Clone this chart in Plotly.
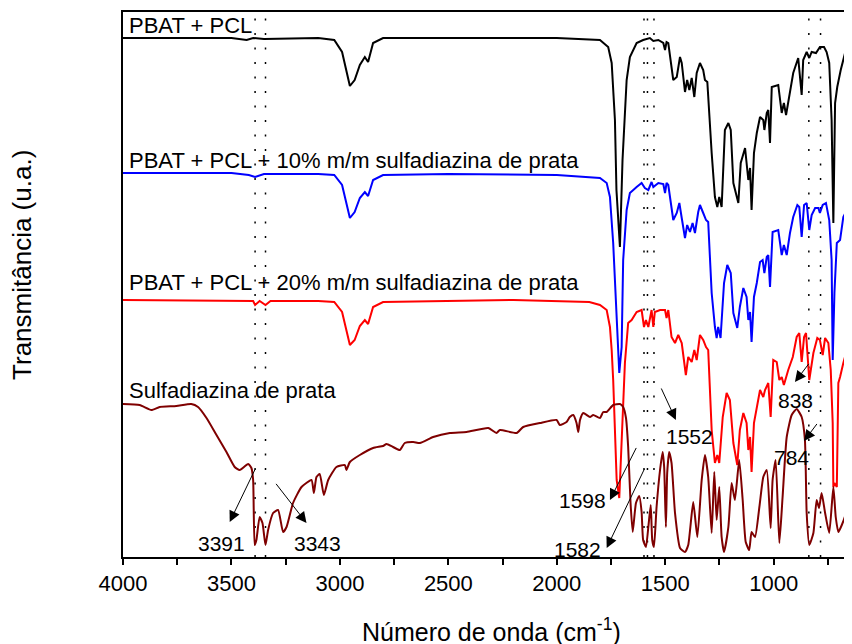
import plotly.graph_objects as go

# ---------------- data (wavenumber in cm^-1, transmittance in arbitrary offset units) -------------
wn_black = [4000, 3500, 3430, 3400, 3350, 3100, 3026, 2990, 2954, 2932, 2908, 2885, 2870, 2847, 2801, 2500, 2000,
            1801, 1763, 1747, 1732, 1725, 1709, 1697, 1678, 1663, 1632, 1602, 1571, 1555, 1532, 1509, 1501, 1494,
            1486, 1463, 1447, 1432, 1424, 1409, 1399, 1389, 1378, 1366, 1355, 1340, 1325, 1317, 1306, 1286, 1271,
            1260, 1251, 1240, 1225, 1209, 1198, 1186, 1163, 1152, 1132, 1125, 1117, 1109, 1102, 1091, 1078, 1063,
            1048, 1043, 1032, 1025, 1017, 1009, 979, 963, 953, 943, 925, 910, 887, 871, 864, 848, 836, 825, 805,
            787, 768, 756, 744, 733, 725, 717, 707, 691, 671, 645]
t_black = [519, 519, 517, 519, 518, 519, 517, 505, 471, 477, 492, 500, 495, 514, 519, 519, 519,
           517, 510, 494, 437, 367, 310, 397, 477, 500, 514, 517, 519, 516, 517, 514, 507, 515,
           514, 477, 480, 500, 494, 465, 477, 467, 479, 460, 484, 494, 487, 477, 475, 404, 360,
           350, 360, 350, 427, 434, 427, 374, 354, 394, 409, 394, 377, 389, 347, 404, 424, 440,
           437, 427, 444, 447, 414, 470, 472, 444, 454, 442, 467, 484, 499, 462, 497, 505, 499, 505, 504,
           510, 510, 505, 494, 437, 334, 454, 470, 487, 504, 512]

wn_blue = [4000, 3500, 3420, 3391, 3350, 3100, 3026, 2990, 2954, 2932, 2908, 2885, 2870, 2847, 2801, 2500, 2000,
           1801, 1770, 1755, 1740, 1724, 1712, 1701, 1694, 1678, 1663, 1632, 1609, 1594, 1578, 1563, 1555, 1532,
           1509, 1501, 1494, 1486, 1463, 1447, 1435, 1424, 1409, 1399, 1386, 1374, 1363, 1348, 1340, 1325, 1312,
           1302, 1286, 1271, 1263, 1256, 1245, 1229, 1214, 1198, 1186, 1168, 1156, 1140, 1125, 1117, 1109, 1102,
           1091, 1078, 1063, 1051, 1043, 1032, 1025, 1017, 1005, 979, 963, 953, 940, 925, 910, 891, 882, 871, 860,
           848, 836, 825, 809, 794, 787, 774, 759, 744, 733, 728, 720, 709, 694, 679, 656, 640]
t_blue = [384, 384, 382, 380, 383, 383, 382, 372, 339, 345, 359, 365, 361, 377, 382, 383, 382,
          379, 374, 360, 314, 230, 184, 210, 297, 347, 364, 370, 374, 369, 367, 375, 370, 374,
          373, 364, 374, 372, 337, 344, 354, 339, 319, 332, 325, 334, 324, 345, 352, 344, 337,
          335, 264, 230, 219, 230, 219, 274, 292, 284, 244, 229, 250, 269, 260, 237, 245, 215,
          260, 274, 295, 297, 284, 300, 302, 270, 325, 327, 302, 312, 302, 324, 340, 352, 350, 320, 352,
          354, 327, 342, 349, 349, 344, 352, 354, 337, 297, 197, 264, 314, 317, 340, 350, 352]

wn_red = [4000, 3500, 3400, 3391, 3370, 3343, 3320, 3100, 3026, 2990, 2954, 2932, 2908, 2885, 2870, 2847, 2801,
          2200, 1850, 1801, 1770, 1755, 1747, 1740, 1724, 1712, 1701, 1686, 1671, 1655, 1632, 1609, 1598, 1589,
          1578, 1563, 1555, 1548, 1524, 1501, 1494, 1486, 1471, 1455, 1440, 1424, 1405, 1394, 1378, 1366, 1355,
          1340, 1325, 1312, 1302, 1286, 1271, 1260, 1251, 1235, 1217, 1202, 1186, 1168, 1156, 1140, 1125, 1117,
          1109, 1102, 1091, 1078, 1063, 1048, 1040, 1025, 1014, 1002, 986, 974, 963, 953, 933, 912, 894, 882,
          871, 860, 851, 836, 817, 799, 787, 774, 763, 748, 737, 728, 725, 720, 709, 702, 694, 679, 660, 640]
t_red = [257, 256, 256, 252, 256, 252, 256, 256, 255, 245, 212, 217, 231, 237, 233, 250, 255,
         257, 255, 252, 247, 230, 207, 177, 77, 59, 110, 194, 234, 237, 245, 247, 230, 237,
         230, 247, 230, 245, 247, 247, 239, 247, 220, 214, 222, 214, 182, 200, 195, 207, 197,
         222, 217, 210, 207, 127, 94, 102, 94, 140, 164, 157, 114, 92, 127, 144, 134, 107,
         120, 85, 134, 150, 167, 160, 167, 174, 140, 197, 195, 177, 180, 172, 187, 200, 220, 224,
         195, 220, 224, 177, 204, 219, 217, 202, 219, 214, 187, 134, 70, 74, 70, 174, 180, 194, 209, 219]

wn_brown = [4000, 3923, 3869, 3831, 3754, 3685, 3654, 3615, 3569, 3523, 3485, 3462, 3423, 3408, 3400, 3393, 3385,
            3370, 3357, 3343, 3331, 3308, 3285, 3262, 3246, 3216, 3177, 3131, 3120, 3108, 3093, 3074, 3054, 3016,
            2977, 2970, 2954, 2908, 2847, 2801, 2785, 2755, 2724, 2701, 2662, 2631, 2570, 2493, 2416, 2316, 2278,
            2262, 2185, 2155, 2078, 2001, 1986, 1955, 1940, 1924, 1909, 1901, 1893, 1878, 1847, 1832, 1801, 1786,
            1770, 1740, 1709, 1694, 1681, 1671, 1660, 1650, 1635, 1620, 1609, 1602, 1589, 1578, 1567, 1560, 1552,
            1540, 1524, 1512, 1505, 1497, 1491, 1482, 1471, 1455, 1432, 1409, 1394, 1371, 1352, 1332, 1317, 1302,
            1286, 1274, 1263, 1251, 1240, 1229, 1209, 1194, 1179, 1159, 1143, 1129, 1113, 1102, 1086, 1066, 1048,
            1032, 1014, 1005, 991, 974, 959, 940, 917, 894, 871, 856, 848, 836, 817, 802, 791, 779, 763, 744, 725,
            714, 702, 686, 667, 656, 645]
t_brown = [153, 152, 147, 150, 151, 153, 150, 139, 122, 105, 90, 87, 93, 89, 77, 12, 17,
           40, 34, 12, 27, 44, 47, 25, 30, 54, 70, 77, 64, 80, 83, 62, 77, 90,
           92, 87, 95, 102, 109, 111, 113, 110, 107, 114, 115, 114, 120, 124, 125, 129, 124,
           127, 124, 130, 134, 137, 132, 135, 140, 142, 134, 125, 137, 144, 140, 142, 139, 145,
           145, 152, 153, 150, 139, 110, 54, 25, 54, 61, 45, 17, 10, 30, 52, 17, 10,
           50, 87, 105, 90, 30, 84, 105, 94, 44, 9, 5, 12, 55, 20, 77, 102, 80,
           24, 85, 37, 70, 20, 5, 30, 74, 57, 97, 57, 15, 7, 25, 20, 50, 80,
           87, 29, 77, 97, 14, 60, 120, 142, 148, 140, 117, 44, 12, 24, 57, 49, 64, 44, 24, 70,
           40, 25, 32, 44, 90, 105]

series_names = ["PBAT + PCL",
                "PBAT + PCL + 10% m/m sulfadiazina de prata",
                "PBAT + PCL + 20% m/m sulfadiazina de prata",
                "Sulfadiazina de prata"]
series_colors = ["#000000", "#0000FF", "#FF0000", "#7F0000"]
series_shapes = ["linear", "linear", "linear", "spline"]
label_pos = [(3983, 532), (3983, 397), (3983, 275), (3983, 167)]

dotted_lines = [3391, 3343, 1598, 1582, 1552, 838, 784]

# (text, text_x, text_y, arrow_tail_x, arrow_tail_y, arrow_head_x, arrow_head_y)
peak_labels = [
    ("3391", 3547, 14, 3377, 94, 3508, 35),
    ("3343", 3102, 14, 3308, 77, 3154, 34),
    ("1598", 1880, 57, 1620, 115, 1755, 57),
    ("1582", 1903, 8, 1583, 94, 1770, 9),
    ("1552", 1386, 121, 1532, 175, 1451, 137),
    ("838", 900, 157, 825, 197, 902, 175),
    ("784", 918, 100, 787, 137, 860, 116),
]

x_ticks = [4000, 3500, 3000, 2500, 2000, 1500, 1000]
x_title = "Número de onda (cm<sup>-1</sup>)"
y_title = "Transmitância (u.a.)"

FONT = "Arial, Liberation Sans, sans-serif"

fig = go.Figure()
for wn, t, name, col, shp in zip([wn_black, wn_blue, wn_red, wn_brown],
                                 [t_black, t_blue, t_red, t_brown],
                                 series_names, series_colors, series_shapes):
    line = dict(color=col, width=2, shape=shp)
    if shp == "spline":
        line["smoothing"] = 0.5
    fig.add_trace(go.Scatter(x=wn, y=t, mode="lines", name=name, line=line, showlegend=False))

for v in dotted_lines:
    fig.add_shape(type="line", xref="x", yref="paper", x0=v, x1=v, y0=0, y1=1,
                  line=dict(color="black", width=1.5, dash="2px,12.5px"), layer="below")

for name, (lx, ly) in zip(series_names, label_pos):
    fig.add_annotation(x=lx, y=ly, text=name, showarrow=False, xanchor="left", yanchor="middle",
                       font=dict(family=FONT, size=22, color="black"))

for txt, tx, ty, ax, ay, hx, hy in peak_labels:
    fig.add_annotation(x=tx, y=ty, text=txt, showarrow=False, xanchor="center", yanchor="middle",
                       font=dict(family=FONT, size=21, color="black"))
    fig.add_annotation(x=hx, y=hy, ax=ax, ay=ay, axref="x", ayref="y", text=" ", showarrow=True,
                       arrowhead=2, arrowsize=2.2, arrowwidth=1, arrowcolor="black", standoff=0)

# axis titles as paper annotations (fixed position)
fig.add_annotation(xref="paper", yref="paper", x=0.506, y=-0.1335, text=x_title, showarrow=False,
                   xanchor="center", yanchor="middle", font=dict(family=FONT, size=25, color="black"))
fig.add_annotation(xref="paper", yref="paper", x=-0.1385, y=0.536, text=y_title, showarrow=False,
                   textangle=-90, xanchor="center", yanchor="middle",
                   font=dict(family=FONT, size=26, color="black"))

# the page body has an 8px margin, so the figure is sized to fit inside the window
fig.update_layout(
    width=844, height=636,
    margin=dict(l=115, r=0, t=4, b=87, autoexpand=False),
    paper_bgcolor="white", plot_bgcolor="white",
    font=dict(family=FONT, color="black"),
    xaxis=dict(range=[4000, 639], tickvals=x_ticks, ticks="outside", ticklen=6, tickwidth=1.5,
               tickcolor="black", showline=True, linecolor="black", linewidth=1.5, mirror=True,
               showgrid=False, zeroline=False, tickfont=dict(size=22), automargin=False,
               minor=dict(dtick=250, ticks="outside", ticklen=6, tickwidth=1.5, tickcolor="black",
                          showgrid=False)),
    yaxis=dict(range=[0, 545], showticklabels=False, ticks="", showline=True, linecolor="black",
               linewidth=1.5, showgrid=False, zeroline=False, automargin=False),
)

fig.write_html("out.html")
